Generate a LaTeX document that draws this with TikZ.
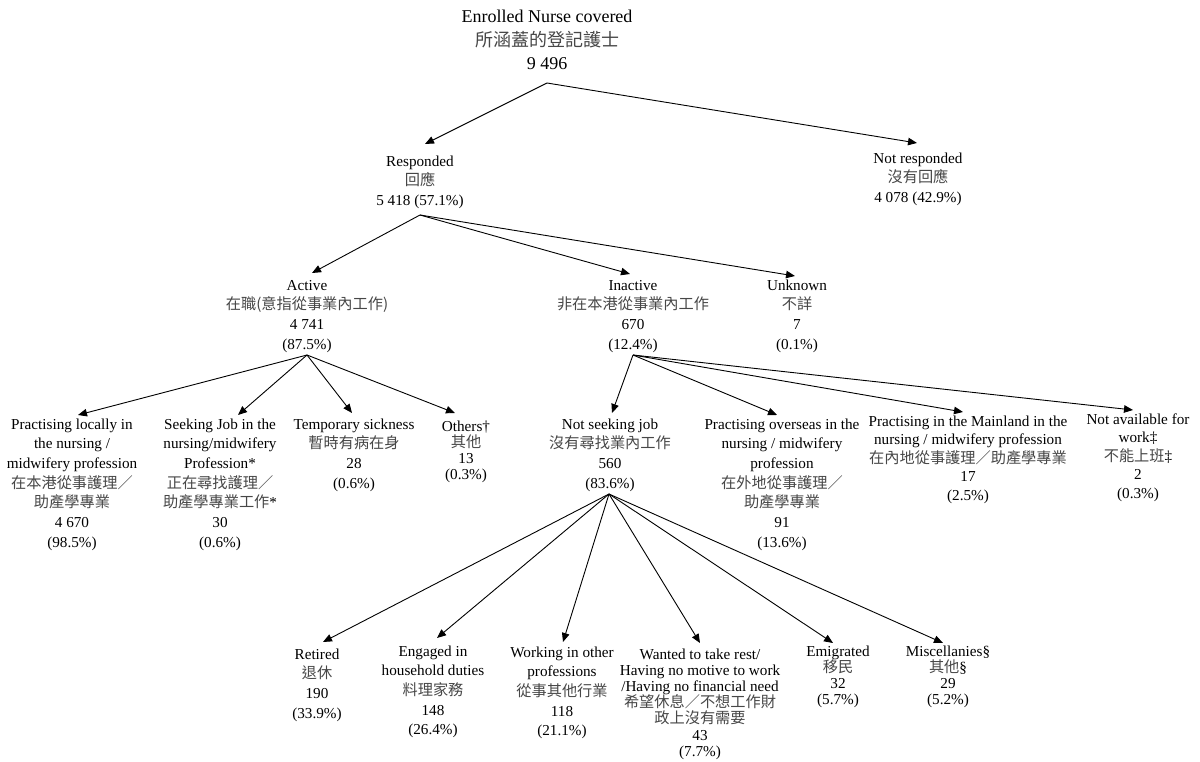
\documentclass[tikz,border=0pt]{standalone}
\usepackage{fontspec}
\setmainfont{Liberation Serif}
\newfontfamily\cjk{Noto Sans CJK TC}
\usetikzlibrary{arrows.meta}
\newcommand\myst{\rule{0pt}{11.4pt}}
\newcommand\mystt{\rule{0pt}{13.5pt}}
\newcommand\zh[1]{{\cjk\color{black!72}#1}}
\newcommand\fontA{\fontsize{15.2pt}{19.7pt}\selectfont\lineskiplimit=-30pt\relax}
\newcommand\fontC{\fontsize{15.2pt}{16.2pt}\selectfont\lineskiplimit=-30pt\relax}
\newcommand\fontM{\fontsize{15.2pt}{18.5pt}\selectfont\lineskiplimit=-30pt\relax}
\newcommand\fontT{\fontsize{18pt}{23.5pt}\selectfont\lineskiplimit=-30pt\relax}
\begin{document}
\begin{tikzpicture}[x=1pt,y=-1pt,
 lbl/.style={anchor=north,inner sep=0pt,align=center,font=\fontA},
 lblc/.style={lbl,font=\fontC},
 lblm/.style={lbl,font=\fontM},
 lbltop/.style={lbl,font=\fontT},
 arr/.style={draw=black,line width=0.9pt,-{Triangle[length=9pt,width=7.5pt]}}]
\fill[white] (0,0) rectangle (1200,762);
\useasboundingbox (0,0) rectangle (1200,762);

% nodes
\node[lbltop] (top) at (547,9) {\mystt Enrolled Nurse covered\\\zh{所涵蓋的登記護士}\\9 496};
\node[lbl] (resp) at (420,154.5) {\myst Responded\\\zh{回應}\\5 418 (57.1\%)};
\node[lbl] (notresp) at (918,151.5) {\myst Not responded\\\zh{沒有回應}\\4 078 (42.9\%)};
\node[lbl] (active) at (307,278.5) {\myst Active\\\zh{在職(意指從事業內工作)}\\4 741\\(87.5\%)};
\node[lbl] (inactive) at (633,278.5) {\myst Inactive\\\zh{非在本港從事業內工作}\\670\\(12.4\%)};
\node[lbl] (unknown) at (797,278.5) {\myst Unknown\\\zh{不詳}\\7\\(0.1\%)};
\node[lbl] (local) at (72,417.5) {\myst Practising locally in\\the nursing /\\midwifery profession\\\zh{在本港從事護理／}\\\zh{助產學專業}\\4 670\\(98.5\%)};
\node[lbl] (seeking) at (220,417.5) {\myst Seeking Job in the\\nursing/midwifery\\Profession*\\\zh{正在尋找護理／}\\\zh{助產學專業工作}*\\30\\(0.6\%)};
\node[lbl] (sick) at (354,417.5) {\myst Temporary sickness\\\zh{暫時有病在身}\\28\\(0.6\%)};
\node[lblc] (others) at (466,419.5) {\myst Others†\\\zh{其他}\\13\\(0.3\%)};
\node[lbl] (notseek) at (610,417.5) {\myst Not seeking job\\\zh{沒有尋找業內工作}\\560\\(83.6\%)};
\node[lbl] (overseas) at (782,417.5) {\myst Practising overseas in the\\nursing / midwifery\\profession\\\zh{在外地從事護理／}\\\zh{助產學專業}\\91\\(13.6\%)};
\node[lblm] (mainland) at (968,414.5) {\myst Practising in the Mainland in the\\nursing / midwifery profession\\\zh{在內地從事護理／助產學專業}\\17\\(2.5\%)};
\node[lblm] (notavail) at (1138,412.5) {\myst Not available for\\work‡\\\zh{不能上班}‡\\2\\(0.3\%)};
\node[lbl] (retired) at (317,647.5) {\myst Retired\\\zh{退休}\\190\\(33.9\%)};
\node[lbl] (engaged) at (433,644.5) {\myst Engaged in\\household duties\\\zh{料理家務}\\148\\(26.4\%)};
\node[lbl] (working) at (562,645.5) {\myst Working in other\\professions\\\zh{從事其他行業}\\118\\(21.1\%)};
\node[lblc] (wanted) at (700,647.5) {\myst Wanted to take rest/\\Having no motive to work\\/Having no financial need\\\zh{希望休息／不想工作財}\\\zh{政上沒有需要}\\43\\(7.7\%)};
\node[lblc] (emigrated) at (838,644.5) {\myst Emigrated\\\zh{移民}\\32\\(5.7\%)};
\node[lblc] (misc) at (948,644.5) {\myst Miscellanies§\\\zh{其他}§\\29\\(5.2\%)};

% connector ends
\coordinate (top-o) at (547,83);
\coordinate (resp-o) at (420,215);
\coordinate (active-o) at (307,355);
\coordinate (inactive-o) at (633,355);
\coordinate (notseek-o) at (609,494);
\coordinate (resp-i) at (425,144);
\coordinate (notresp-i) at (917,143);
\coordinate (active-i) at (312,273);
\coordinate (inactive-i) at (630,274);
\coordinate (unknown-i) at (795,276);
\coordinate (local-i) at (78,415);
\coordinate (seeking-i) at (238,415);
\coordinate (sick-i) at (352,413);
\coordinate (others-i) at (455,413);
\coordinate (notseek-i) at (612,413);
\coordinate (overseas-i) at (777,415);
\coordinate (mainland-i) at (963,412);
\coordinate (notavail-i) at (1133,410);
\coordinate (retired-i) at (323,642);
\coordinate (engaged-i) at (437,638);
\coordinate (working-i) at (563,642);
\coordinate (wanted-i) at (700,643);
\coordinate (emigrated-i) at (833,643);
\coordinate (misc-i) at (943,643);

% connectors
\draw[arr] (top-o) -- (resp-i);
\draw[arr] (top-o) -- (notresp-i);
\draw[arr] (resp-o) -- (active-i);
\draw[arr] (resp-o) -- (inactive-i);
\draw[arr] (resp-o) -- (unknown-i);
\draw[arr] (active-o) -- (local-i);
\draw[arr] (active-o) -- (seeking-i);
\draw[arr] (active-o) -- (sick-i);
\draw[arr] (active-o) -- (others-i);
\draw[arr] (inactive-o) -- (notseek-i);
\draw[arr] (inactive-o) -- (overseas-i);
\draw[arr] (inactive-o) -- (mainland-i);
\draw[arr] (inactive-o) -- (notavail-i);
\draw[arr] (notseek-o) -- (retired-i);
\draw[arr] (notseek-o) -- (engaged-i);
\draw[arr] (notseek-o) -- (working-i);
\draw[arr] (notseek-o) -- (wanted-i);
\draw[arr] (notseek-o) -- (emigrated-i);
\draw[arr] (notseek-o) -- (misc-i);
\end{tikzpicture}
\end{document}
